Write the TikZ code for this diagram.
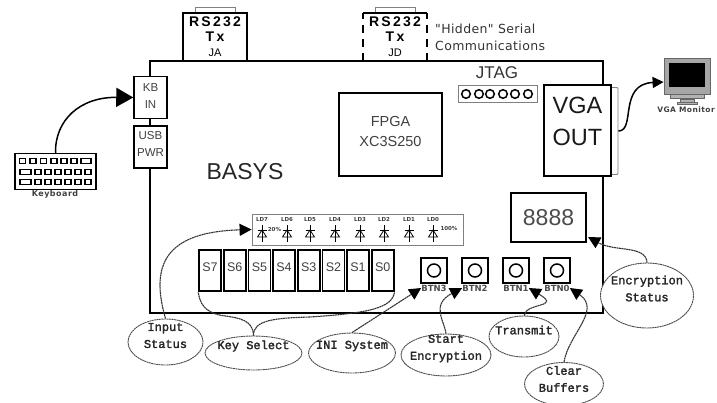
\documentclass[tikz,border=0pt]{standalone}
\usepackage{fontspec}
\setmainfont{Liberation Sans}
\newfontfamily\vera{DejaVu Sans}
\newfontfamily\courierb[FakeBold=2]{Liberation Mono}
\usetikzlibrary{positioning, arrows.meta, calc, shapes.geometric}

\begin{document}
\begin{tikzpicture}[
  x=1pt, y=-1pt,
  box/.style={draw, line width=1.5pt, fill=white, align=center, inner sep=0pt, text=black!75},
  port/.style={box, font=\fontsize{11.5}{17}\selectfont, minimum width=33pt, minimum height=42pt},
  swbox/.style={box, line width=1.8pt, font=\fontsize{12.5}{14}\selectfont, text depth=6pt, minimum width=22pt, minimum height=41pt},
  btnbox/.style={box, line width=1.8pt, minimum width=26pt, minimum height=25pt},
  btnlabel/.style={font=\vera\bfseries\fontsize{8.5}{9}\selectfont, text=black!70, inner sep=0pt},
  ledlabel/.style={font=\vera\bfseries\fontsize{5.5}{6}\selectfont, text=black!75, text height=4pt, text depth=0pt, inner sep=0pt},
  bubble/.style={draw=black!70, ellipse, line width=0.9pt, dash pattern=on 2pt off 0.5pt, inner sep=0pt},
  bubtext/.style={font=\courierb\fontsize{12}{17}\selectfont, align=center, inner sep=0pt, text=black!85},
  scribble/.style={draw=black!80, line width=1.1pt, dash pattern=on 2pt off 0.5pt},
  ghost/.style={draw=black!50, line width=0.8pt, fill=white, inner sep=0pt},
  tipbig/.style={-{Triangle[length=17pt, width=19pt]}, line width=1.5pt},
  tip/.style={-{Triangle[length=12pt, width=12pt, fill=black, color=black]}},
]
\useasboundingbox (0,0) rectangle (717,402);

%% ---- Board ----

\node[draw, line width=2pt, minimum width=453pt, minimum height=252pt, inner sep=0pt] (board) at (376.5,187) {};

\node[font=\fontsize{23}{24}\selectfont, text=black!85, inner sep=0pt] (basys) at (245,172) {BASYS};

%% ---- Serial ports ----

\node[ghost, minimum width=40pt, minimum height=6pt] (japlug) at (215,10) {};
\node[box, font=\fontsize{11}{15}\selectfont, text=black, minimum width=64pt, minimum height=48pt] (ja) at (215,37)
    {\addfontfeature{LetterSpace=16}\bfseries\fontsize{14}{15}\selectfont RS232\\[0pt]\addfontfeature{LetterSpace=16}\bfseries\fontsize{14}{15}\selectfont Tx\\\fontsize{11}{13}\selectfont JA};

\node[ghost, minimum width=40pt, minimum height=6pt] (jdplug) at (395,10) {};
\node[align=center, inner sep=0pt, font=\fontsize{11}{15}\selectfont, minimum width=64pt, minimum height=48pt] (jd) at (395,37)
    {\addfontfeature{LetterSpace=16}\bfseries\fontsize{14}{15}\selectfont RS232\\[0pt]\addfontfeature{LetterSpace=16}\bfseries\fontsize{14}{15}\selectfont Tx\\\fontsize{11}{13}\selectfont JD};
\draw[line width=1.5pt, dash pattern=on 8pt off 6pt] (jd.south west) -- (jd.north west);
\draw[line width=1.5pt] (jd.north west) -- (jd.north east);
\draw[line width=1.5pt, dash pattern=on 8pt off 6pt] (jd.south east) -- (jd.north east);

\node[font=\vera\fontsize{12.5}{17}\selectfont, align=left, anchor=west, inner sep=0pt, text=black!80] (hidden) at (435,37)
    {\addfontfeature{LetterSpace=3}"Hidden" Serial\\\addfontfeature{LetterSpace=3}Communications};

%% ---- Keyboard side ----

\node[port, text depth=3pt] (kbin) at (150.5,97.5) {KB\\IN};
\node[port, text depth=6pt] (usbpwr) at (150.5,147) {USB\\PWR};

\node[draw, line width=1.5pt, minimum width=81pt, minimum height=36pt, inner sep=0pt] (kbd) at (55.5,171.5) {};
\node[font=\vera\bfseries\fontsize{8}{9}\selectfont, text=black!75, inner sep=0pt] (kbdlabel) at (55,194) {\addfontfeature{LetterSpace=6}Keyboard};
\foreach \kx in {19.5,30,40.5,51,61,71} \draw[line width=1.2pt] (\kx,158.5) rectangle ++(6,5);
\draw[line width=1.2pt] (81,158.5) rectangle ++(10,5);
\draw[line width=1.2pt] (20,169.5) rectangle ++(11,5);
\draw[line width=1.2pt] (20,179.5) rectangle ++(11,5);
\foreach \kx in {35,45,55,65,75,85} {
  \draw[line width=1.2pt] (\kx,169.5) rectangle ++(6,5);
  \draw[line width=1.2pt] (\kx,179.5) rectangle ++(6,5);
}
\draw[tipbig] (kbd.north) .. controls (55,120) and (80,97) .. (kbin.west);

%% ---- FPGA and JTAG ----

\node[box, font=\fontsize{14.5}{20}\selectfont, text depth=7pt, minimum width=103pt, minimum height=83pt] (fpga) at (390.5,134.5) {FPGA\\XC3S250};

\node[font=\fontsize{17}{18}\selectfont, text=black!80, inner sep=0pt] (jtaglabel) at (497,73) {JTAG};
\node[draw=black!50, line width=0.8pt, minimum width=79pt, minimum height=17pt, inner sep=0pt] (jtag) at (497.5,93.5) {};
\foreach \jx in {466,479,490,503,515,528} \draw[line width=1.5pt] (\jx,94) circle (4.3pt);

%% ---- VGA ----

\node[ghost, rounded corners=1pt, minimum width=7pt, minimum height=87pt] (vgaplug) at (614.5,131) {};
\node[box, font=\fontsize{23.5}{32}\selectfont, text=black!90, text depth=18pt, minimum width=67pt, minimum height=91pt] (vgaout) at (577.5,130.5) {VGA\\OUT};

\node[draw=black!60, fill=black!35, line width=0.8pt, minimum width=46pt, minimum height=36pt, inner sep=0pt] (monitor) at (687,76) {};
\node[fill=black, minimum width=36pt, minimum height=24pt, inner sep=0pt] (screen) at (687,75) {};
\node[draw=black!60, fill=black!30, minimum width=34pt, minimum height=4pt, inner sep=0pt, below=0pt of monitor] (monbase) {};
\node[draw=black!60, fill=black!30, minimum width=14pt, minimum height=3pt, inner sep=0pt, below=0pt of monbase] (monneck) {};
\node[draw=black!60, fill=black!30, minimum width=20pt, minimum height=2pt, inner sep=0pt, below=0pt of monneck] (monfoot) {};
\node[font=\vera\bfseries\fontsize{7.5}{8}\selectfont, text=black!75, inner sep=0pt] (monlabel) at (686,110) {\addfontfeature{LetterSpace=6}VGA Monitor};
\draw[-{Triangle[length=11pt, width=11pt]}, line width=1.5pt] (vgaplug.east) .. controls (636,131) and (618,84) .. ([yshift=-6pt]monitor.west);

%% ---- Seven segment display ----

\node[box, line width=1.2pt, font=\fontsize{23}{24}\selectfont, text=black!70, minimum width=75pt, minimum height=49pt] (disp) at (548.5,217.5) {8888};
\coordinate (disptip) at (588,237);

%% ---- LEDs ----

\node[draw=black!50, line width=0.8pt, minimum width=211pt, minimum height=31pt, inner sep=0pt] (ledbox) at (357.5,229.5) {};
\foreach \lx/\ln in {262/7,287/6,310/5,335/4,360/3,384/2,409/1,433/0} {
  \node[ledlabel] (ld\ln) at (\lx,219) {LD\ln};
  \draw[line width=0.8pt] (\lx,225) -- (\lx,242);
  \draw[line width=0.8pt] (\lx-4.5,237) -- (\lx+4.5,237) -- (\lx,230) -- cycle;
  \draw[line width=0.8pt] (\lx-4.5,230) -- (\lx+4.5,230);
}
\node[ledlabel] (pctlow) at (274.5,229) {20\%};
\node[ledlabel] (pcthigh) at (449,228) {100\%};

%% ---- Switches ----

\foreach \sx/\sn in {210/7,234.7/6,259.4/5,284/4,308.7/3,333.4/2,358/1,382.7/0}
  \node[swbox] (sw\sn) at (\sx,270.5) {S\sn};

%% ---- Buttons ----

\foreach \bx/\bn in {434/3,475/2,516/1,557/0} {
  \node[btnbox] (btn\bn) at (\bx,270.5) {};
  \draw[line width=1.5pt] (btn\bn) circle (6.5pt);
  \node[btnlabel] (btn\bn l) at (\bx,288) {BTN\bn};
}

%% ---- Callouts ----

\node[bubble, minimum width=75pt, minimum height=46pt] (inputst) at (165.5,342) {};
\node[bubtext] (inputsttxt) at ([yshift=6.5pt]inputst) {Input\\Status};

\node[bubble, minimum width=97pt, minimum height=34pt] (keysel) at (253.5,353) {};
\node[bubtext] (keyseltxt) at ([yshift=7pt]keysel) {Key Select};

\node[bubble, minimum width=87pt, minimum height=40pt] (inisys) at (352,353) {};
\node[bubtext] (inisystxt) at ([yshift=7pt]inisys) {INI System};

\node[bubble, minimum width=90pt, minimum height=42pt] (startenc) at (446,355) {};
\node[bubtext] (startenctxt) at ([yshift=6.5pt]startenc) {Start\\Encryption};

\node[bubble, minimum width=70pt, minimum height=41pt] (transmit) at (524,336.5) {};
\node[bubtext] (transmittxt) at ([yshift=6.5pt]transmit) {Transmit};

\node[bubble, minimum width=79pt, minimum height=43pt] (clearbuf) at (564,384) {};
\node[bubtext] (clearbuftxt) at ([yshift=5pt]clearbuf) {Clear\\Buffers};

\node[bubble, fill=white, minimum width=93pt, minimum height=65pt] (encst) at (647,295.5) {};
\node[bubtext] (encsttxt) at ([yshift=7pt]encst) {Encryption\\Status};

%% ---- Callout connectors ----

\draw[scribble, tip] (inputst.north) .. controls (150,265) and (165,232) .. (ledbox.west);
\draw[scribble] (keysel.north) .. controls (253,320) and (240,318) .. (222,315.5) .. controls (203,312) and (200,302) .. (sw7.south west);
\draw[scribble] (keysel.north) .. controls (253,320) and (275,318) .. (310,317) .. controls (370,313) and (392,308) .. (sw0.south east);
\draw[scribble, tip] (inisys.north) -- (btn3l.west);
\draw[scribble, tip] (startenc.north) .. controls (445,322) and (430,305) .. (btn2l.west);
\draw[scribble, tip] (transmit.north) .. controls (526,302) and (562,308) .. (btn1l.east);
\draw[scribble, tip] (clearbuf.north) .. controls (568,335) and (602,310) .. (btn0l.east);
\draw[scribble, tip] (encst.north) .. controls (646,245) and (615,252) .. (disptip);

\end{tikzpicture}
\end{document}
